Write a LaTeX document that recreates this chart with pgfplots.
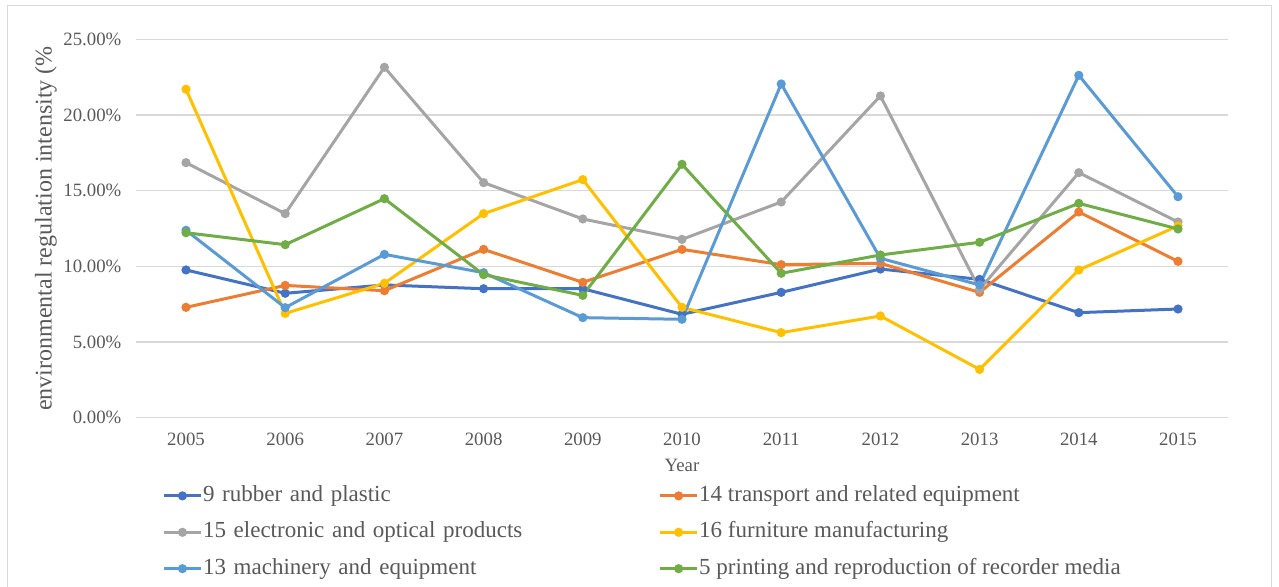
\documentclass[border=0pt]{standalone}
\usepackage{fontspec}
\setmainfont{Liberation Serif}
\usepackage{pgfplots}
\pgfplotsset{compat=1.18}
\definecolor{cA}{HTML}{4472C4}
\definecolor{cB}{HTML}{ED7D31}
\definecolor{cC}{HTML}{A5A5A5}
\definecolor{cD}{HTML}{FFC000}
\definecolor{cE}{HTML}{5B9BD5}
\definecolor{cF}{HTML}{70AD47}
\definecolor{gridc}{HTML}{D9D9D9}
\definecolor{txt}{HTML}{595959}
\begin{document}
\begin{tikzpicture}
\draw[gridc, line width=0.6pt] (3.65pt,-5pt) -- (3.65pt,290.7pt) -- (635.85pt,290.7pt) -- (635.85pt,-5pt);
\begin{axis}[
  at={(68.2pt,84.65pt)}, anchor=south west,
  width=545.6pt, height=189.2pt, scale only axis,
  xmin=-0.5, xmax=10.5, ymin=0, ymax=25,
  xtick={0,...,10},
  xticklabels={2005,2006,2007,2008,2009,2010,2011,2012,2013,2014,2015},
  ytick={0,5,10,15,20,25},
  yticklabels={0.00\%,5.00\%,10.00\%,15.00\%,20.00\%,25.00\%},
  axis line style={draw=none},
  major tick length=0pt,
  ymajorgrids, grid style={gridc, line width=0.6pt},
  tick label style={font=\fontsize{9.4}{11}\selectfont, text=txt},
  xticklabel style={anchor=base, yshift=-14pt, inner sep=0pt},
  yticklabel style={anchor=east, inner sep=0pt, xshift=-7.3pt},
  every axis x label/.style={at={(axis description cs:0.5,-0.1427)}, anchor=base, font=\fontsize{9.4}{11}\selectfont, text=txt},
  every axis y label/.style={at={(axis description cs:-0.07762,0.5)}, rotate=90, anchor=base, font=\fontsize{12}{14}\selectfont, text=txt},
  xlabel={Year},
  ylabel={environmental regulation intensity (\%},
  every axis plot/.append style={line width=1.5pt, mark=*, mark size=1.5pt},
  legend columns=2,
  legend style={at={(0.0235,-0.1752)}, anchor=north west, draw=none, inner sep=0pt,
    font=\fontsize{11.5}{14}\selectfont, text=txt,
    nodes={inner xsep=0.3pt, inner ysep=0pt, text height=8.5pt, text depth=3pt},
    /tikz/column sep=0pt, /tikz/row sep=6.7pt,
    /tikz/column 2/.style={nodes={text width=227.5pt, align=left}}},
  legend cell align=left,
  legend image code/.code={\draw[mark repeat=2,mark phase=2,#1] plot coordinates {(0pt,0pt)(9.25pt,0pt)(18.5pt,0pt)};},
]
\addplot[cA, mark options={fill=cA, draw=cA}] coordinates {(0,9.76)(1,8.22)(2,8.77)(3,8.52)(4,8.52)(5,6.83)(6,8.28)(7,9.82)(8,9.14)(9,6.94)(10,7.18)};
\addlegendentry{9 rubber and plastic}
\addplot[cB, mark options={fill=cB, draw=cB}] coordinates {(0,7.29)(1,8.74)(2,8.39)(3,11.12)(4,8.94)(5,11.12)(6,10.11)(7,10.20)(8,8.28)(9,13.59)(10,10.33)};
\addlegendentry{14 transport and related equipment}
\addplot[cC, mark options={fill=cC, draw=cC}] coordinates {(0,16.85)(1,13.48)(2,23.15)(3,15.53)(4,13.13)(5,11.78)(6,14.25)(7,21.26)(8,8.48)(9,16.19)(10,12.93)};
\addlegendentry{15 electronic and optical products}
\addplot[cD, mark options={fill=cD, draw=cD}] coordinates {(0,21.70)(1,6.89)(2,8.88)(3,13.48)(4,15.73)(5,7.29)(6,5.62)(7,6.72)(8,3.19)(9,9.76)(10,12.67)};
\addlegendentry{16 furniture manufacturing}
\addplot[cE, mark options={fill=cE, draw=cE}] coordinates {(0,12.38)(1,7.27)(2,10.79)(3,9.58)(4,6.61)(5,6.50)(6,22.05)(7,10.53)(8,8.77)(9,22.62)(10,14.60)};
\addlegendentry{13 machinery and equipment}
\addplot[cF, mark options={fill=cF, draw=cF}] coordinates {(0,12.22)(1,11.43)(2,14.47)(3,9.45)(4,8.08)(5,16.74)(6,9.54)(7,10.75)(8,11.59)(9,14.16)(10,12.47)};
\addlegendentry{5 printing and reproduction of recorder media}
\end{axis}
\pgfresetboundingbox
\useasboundingbox (0,0) rectangle (639.5pt,293.5pt);
\end{tikzpicture}
\end{document}
